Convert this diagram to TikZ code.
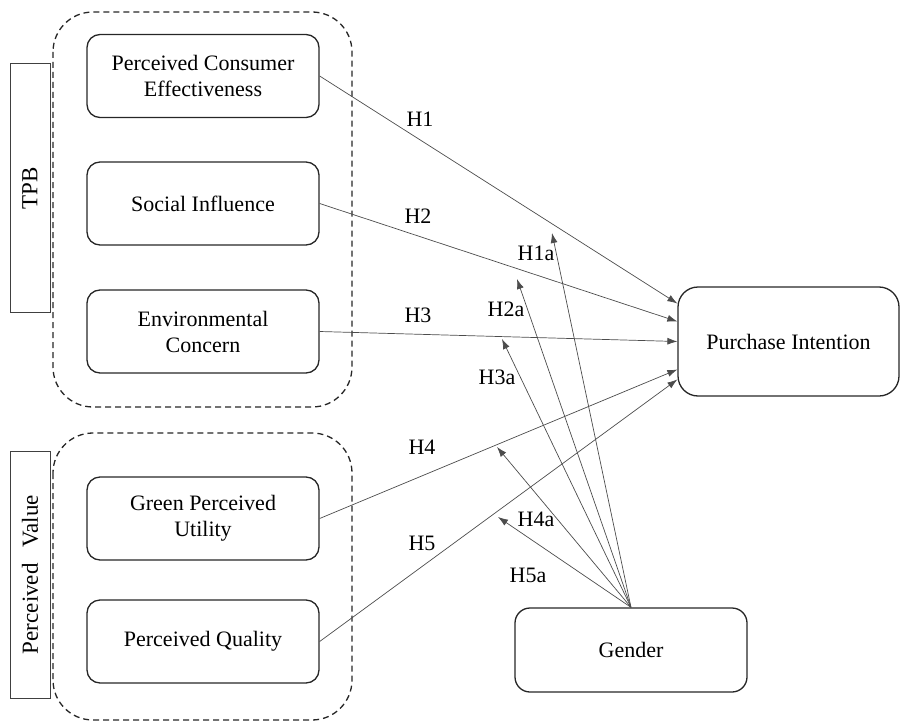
\documentclass[tikz,border=0pt]{standalone}
\usepackage{fontspec}
\setmainfont{Liberation Serif}
\usetikzlibrary{arrows.meta}

\begin{document}
\begin{tikzpicture}[x=1pt,y=-1pt,font=\fontsize{22}{26}\selectfont,
  construct/.style={draw=black!85,line width=1.3pt,rounded corners=13pt,minimum width=232pt,minimum height=83pt,align=center,inner sep=2pt},
  cluster/.style={draw=black!85,line width=1.3pt,dash pattern=on 6pt off 4pt,rounded corners=40pt},
  grouplabel/.style={draw=black!75,line width=1pt,rotate=90,minimum height=40pt,inner sep=2pt,font=\fontsize{23}{27}\selectfont},
  link/.style={->,draw=black!70,line width=0.7pt},
  >={Latex[length=10pt,width=7pt]}]
\useasboundingbox (0,0) rectangle (901,722);
% groups
\draw[cluster] (53,12) rectangle (352,407);
\draw[cluster] (53,433) rectangle (352,720);
\node[grouplabel,minimum width=248pt] (tpb) at (30,188) {TPB};
\node[grouplabel,minimum width=247pt] (pv) at (30,574.5) {Perceived\hspace{0.7em}Value};
% constructs
\node[construct] (pce) at (203,76) {Perceived Consumer\\Effectiveness};
\node[construct] (si) at (203,203.5) {Social Influence};
\node[construct] (ec) at (203,331.5) {Environmental\\Concern};
\node[construct] (gpu) at (203,518.5) {Green Perceived\\Utility};
\node[construct] (pq) at (203,641.5) {Perceived Quality};
\node[construct,minimum width=221pt,minimum height=109pt,rounded corners=20pt] (pi) at (788.5,341.5) {Purchase Intention};
\node[construct,minimum width=232pt,minimum height=84pt,rounded corners=15pt] (gen) at (631,650) {Gender};
% direct paths
\draw[link] (pce.east) -- ([yshift=38pt]pi.west);
\draw[link] (si.east) -- ([yshift=20pt]pi.west);
\draw[link] (ec.east) -- (pi.west);
\draw[link] (gpu.east) -- ([yshift=-28pt]pi.west);
\draw[link] (pq.east) -- ([yshift=-38pt]pi.west);
% moderation by gender
\coordinate (m1) at (552,233);
\coordinate (m2) at (517,279);
\coordinate (m3) at (502,339);
\coordinate (m4) at (497,447);
\coordinate (m5) at (498,517);
\draw[link] (gen.north) -- (m1);
\draw[link] (gen.north) -- (m2);
\draw[link] (gen.north) -- (m3);
\draw[link] (gen.north) -- (m4);
\draw[link] (gen.north) -- (m5);
% hypothesis labels
\node (h1) at (420,119) {H1};
\node (h2) at (418,216) {H2};
\node (h3) at (418,315) {H3};
\node (h4) at (422,447) {H4};
\node (h5) at (422,543) {H5};
\node (h1a) at (536,253) {H1a};
\node (h2a) at (506,309) {H2a};
\node (h3a) at (497,377) {H3a};
\node (h4a) at (536,519) {H4a};
\node (h5a) at (528,575) {H5a};
\end{tikzpicture}
\end{document}
